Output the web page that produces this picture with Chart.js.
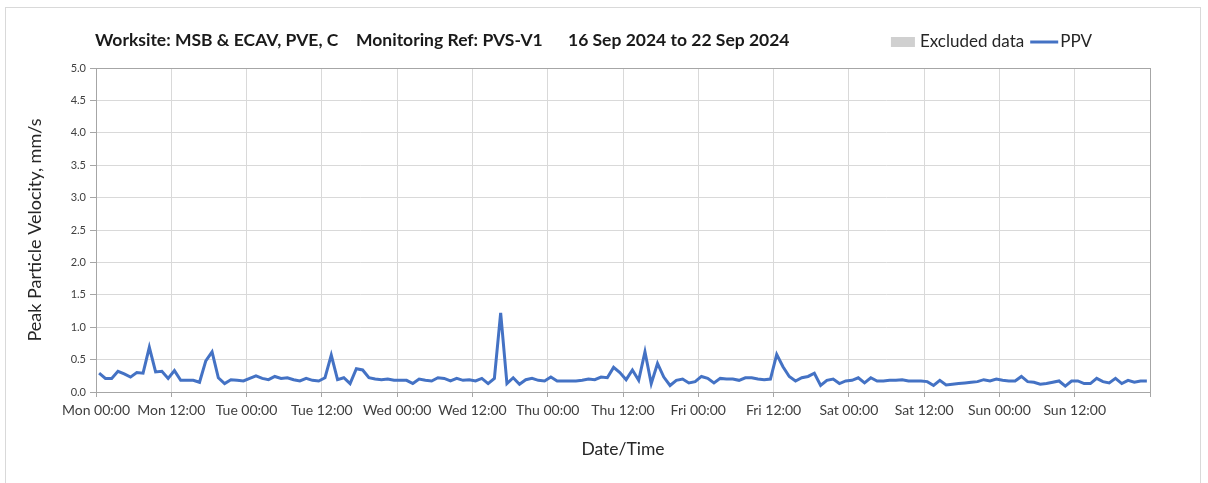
<!DOCTYPE html>
<html>
<head>
<meta charset="utf-8">
<script src="https://cdn.jsdelivr.net/npm/chart.js@4"></script>
<style>
  html, body { margin: 0; padding: 0; background: #fff; overflow: hidden; }
  #frame { position: absolute; left: 5px; top: 7px; width: 1194px; height: 490px; border: 1px solid #d9d9d9; }
  #ppvChart { position: absolute; left: 0; top: 0; }
</style>
</head>
<body>
<div id="frame"></div>
<canvas id="ppvChart" width="1208" height="483"></canvas>
<script>
// PPV readings, one per hour, Mon 16 Sep 00:00 .. Sun 22 Sep 23:00 (mm/s)
const ppvMon = [0.29, 0.21, 0.21, 0.32, 0.28, 0.23, 0.30, 0.29, 0.69, 0.31, 0.32, 0.21,
                0.33, 0.18, 0.18, 0.18, 0.15, 0.48, 0.62, 0.22, 0.13, 0.19, 0.18, 0.17];
const ppvTue = [0.21, 0.25, 0.21, 0.19, 0.24, 0.21, 0.22, 0.19, 0.17, 0.21, 0.18, 0.17,
                0.22, 0.57, 0.19, 0.22, 0.13, 0.36, 0.34, 0.22, 0.20, 0.19, 0.20, 0.18];
const ppvWed = [0.18, 0.18, 0.13, 0.20, 0.18, 0.17, 0.22, 0.21, 0.17, 0.21, 0.18, 0.19,
                0.17, 0.21, 0.13, 0.21, 1.22, 0.13, 0.22, 0.12, 0.19, 0.21, 0.18, 0.17];
const ppvThu = [0.23, 0.17, 0.17, 0.17, 0.17, 0.18, 0.20, 0.19, 0.23, 0.22, 0.38, 0.30,
                0.19, 0.34, 0.18, 0.62, 0.13, 0.44, 0.23, 0.10, 0.18, 0.20, 0.14, 0.16];
const ppvFri = [0.24, 0.21, 0.14, 0.21, 0.20, 0.20, 0.18, 0.22, 0.22, 0.20, 0.19, 0.20,
                0.58, 0.39, 0.24, 0.17, 0.22, 0.24, 0.29, 0.10, 0.18, 0.20, 0.13, 0.17];
const ppvSat = [0.18, 0.22, 0.14, 0.22, 0.17, 0.17, 0.18, 0.18, 0.19, 0.17, 0.17, 0.17,
                0.16, 0.10, 0.18, 0.11, 0.12, 0.13, 0.14, 0.15, 0.16, 0.19, 0.17, 0.20];
const ppvSun = [0.18, 0.17, 0.17, 0.24, 0.16, 0.15, 0.12, 0.13, 0.15, 0.17, 0.09, 0.17,
                0.17, 0.13, 0.13, 0.21, 0.16, 0.14, 0.21, 0.13, 0.18, 0.15, 0.17, 0.17];

const days = ['Mon', 'Tue', 'Wed', 'Thu', 'Fri', 'Sat', 'Sun'];
const hourTicks = ['00:00', '12:00'];
const yTicks = [0, 0.5, 1.0, 1.5, 2.0, 2.5, 3.0, 3.5, 4.0, 4.5, 5.0];
const excluded = [];

const titleParts = ['Worksite: MSB & ECAV, PVE, C', 'Monitoring Ref: PVS-V1', '16 Sep 2024 to 22 Sep 2024'];

const FONT = 'Lato, "Open Sans", sans-serif';

// x tick labels every 12 hours, last tick (end of Sunday) left blank
const xLabels = [];
days.forEach(d => hourTicks.forEach(t => xLabels.push(d + ' ' + t)));

// each hourly reading is plotted mid-way through its hour
const ppv = [].concat(ppvMon, ppvTue, ppvWed, ppvThu, ppvFri, ppvSat, ppvSun)
  .map((v, i) => ({ x: i + 0.5, y: v }));

// title row + legend, drawn on the same line above the plot
const headerPlugin = {
  id: 'header',
  afterDraw(chart) {
    const ctx = chart.ctx;
    ctx.save();
    ctx.textBaseline = 'middle';
    ctx.fillStyle = '#1a1a1a';
    ctx.font = 'bold 17.5px ' + FONT;
    const starts = [95, 356, 568];
    titleParts.forEach((t, i) => ctx.fillText(t, starts[i], 40));

    // legend, right aligned
    ctx.font = '17px ' + FONT;
    const items = chart.data.datasets.map(ds => ({
      text: ds.label,
      box: !!ds.legendBox,
      color: ds.legendBox ? ds.backgroundColor : ds.borderColor,
      w: ctx.measureText(ds.label).width
    }));
    let x = 1092;
    for (let i = items.length - 1; i >= 0; i--) {
      const it = items[i];
      const markW = it.box ? 24 : 28;
      const gap = it.box ? 5 : 2;
      x -= it.w;
      ctx.fillStyle = '#262626';
      ctx.fillText(it.text, x, 42);
      x -= gap + markW;
      if (it.box) {
        ctx.fillStyle = it.color;
        ctx.fillRect(x, 37, markW, 10);
      } else {
        ctx.strokeStyle = it.color;
        ctx.lineWidth = 3;
        ctx.beginPath();
        ctx.moveTo(x, 42);
        ctx.lineTo(x + markW, 42);
        ctx.stroke();
      }
      x -= 6;
    }

    // plot frame
    const a = chart.chartArea;
    ctx.strokeStyle = '#a6a6a6';
    ctx.lineWidth = 1;
    ctx.strokeRect(Math.round(a.left) + 0.5, Math.round(a.top) + 0.5,
      Math.round(a.right - a.left), Math.round(a.bottom - a.top));
    ctx.restore();
  }
};

new Chart(document.getElementById('ppvChart'), {
  type: 'line',
  data: {
    datasets: [
      {
        label: 'Excluded data',
        legendBox: true,
        data: excluded,
        backgroundColor: '#d0d0d0',
        borderWidth: 0,
        pointRadius: 0
      },
      {
        label: 'PPV',
        data: ppv,
        borderColor: '#4472C4',
        borderWidth: 3,
        pointRadius: 0,
        tension: 0,
        fill: false
      }
    ]
  },
  options: {
    responsive: false,
    devicePixelRatio: 1,
    animation: false,
    layout: { padding: { left: 0, right: 58, top: 68, bottom: 0 } },
    plugins: {
      legend: { display: false },
      tooltip: { enabled: false }
    },
    scales: {
      x: {
        type: 'linear',
        offset: false,
        min: 0,
        max: 168,
        afterBuildTicks: scale => {
          scale.ticks = xLabels.concat(['']).map((l, i) => ({ value: i * 12 }));
        },
        afterFit: scale => { scale.height = 91; },
        ticks: {
          autoSkip: false,
          maxRotation: 0,
          padding: 5,
          color: '#404040',
          font: { family: FONT, size: 14 },
          callback: (v) => xLabels[Math.round(v / 12)] || ''
        },
        grid: { offset: false, color: '#d9d9d9', tickColor: '#a6a6a6', tickLength: 5 },
        border: { color: '#a6a6a6' },
        title: {
          display: true,
          text: 'Date/Time',
          color: '#262626',
          font: { family: FONT, size: 17.5 },
          padding: { top: 0, bottom: 23 }
        }
      },
      y: {
        min: 0,
        max: 5,
        afterBuildTicks: scale => {
          scale.ticks = yTicks.map(v => ({ value: v }));
        },
        afterFit: scale => { scale.width = 96; },
        ticks: {
          padding: 4,
          color: '#404040',
          font: { family: FONT, size: 11 },
          callback: v => v.toFixed(1)
        },
        grid: { color: '#d9d9d9', tickColor: '#a6a6a6', tickLength: 6 },
        border: { color: '#a6a6a6' },
        title: {
          display: true,
          text: 'Peak Particle Velocity, mm/s',
          color: '#262626',
          font: { family: FONT, size: 18 },
          padding: { top: 24, bottom: 0 }
        }
      }
    }
  },
  plugins: [headerPlugin]
});
</script>
</body>
</html>
